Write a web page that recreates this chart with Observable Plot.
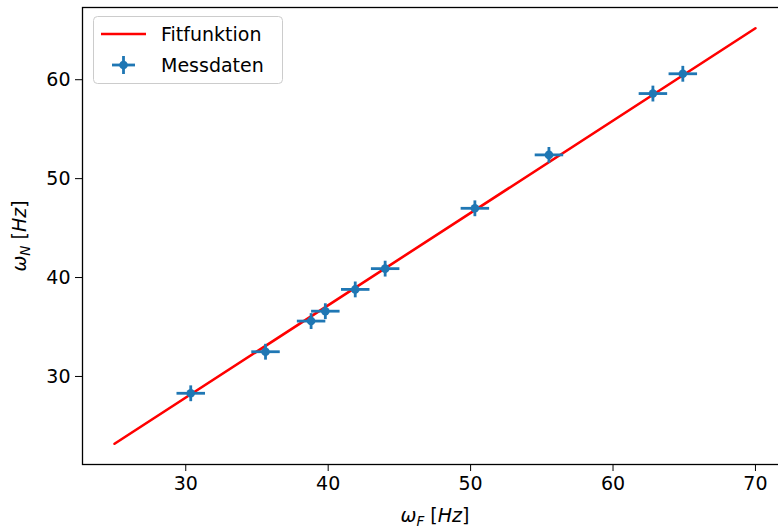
<!DOCTYPE html>
<html>
<head>
<meta charset="utf-8">
<script src="https://cdn.jsdelivr.net/npm/d3@7"></script>
<script src="https://cdn.jsdelivr.net/npm/@observablehq/plot@0.6"></script>
<style>
  html, body { margin: 0; background: #fff; overflow: hidden; }
  #chart { position: relative; width: 778px; height: 529px; overflow: hidden; }
  #chart svg { font-family: "DejaVu Sans", sans-serif; max-width: none !important; width: 788px; height: 529px; }
</style>
</head>
<body>
<div id="chart"></div>
<script>
// Messdaten
const omegaF = [30.35, 35.6, 38.8, 39.8, 41.9, 44.0, 50.3, 55.5, 62.8, 64.9];
const omegaN = [28.3, 32.5, 35.6, 36.6, 38.8, 40.9, 47.0, 52.4, 58.6, 60.6];
const errF = [1.0, 1.0, 1.0, 1.0, 1.0, 1.0, 1.0, 1.0, 1.0, 1.0];
const errN = [0.8, 0.8, 0.8, 0.8, 0.8, 0.8, 0.8, 0.8, 0.8, 0.8];
// Fitfunktion endpoints
const fitX = [25, 70];
const fitY = [23.2, 65.2];
const xTicks = [30, 40, 50, 60, 70];
const yTicks = [30, 40, 50, 60];

const pts = omegaF.map((x, i) => ({x, y: omegaN[i], ex: errF[i], ey: errN[i]}));
const fit = fitX.map((x, i) => ({x, y: fitY[i]}));
const blue = "#1f77b4";
const FS = 19;

// the figure is wider than the visible 778 px; the right spine is cropped as in the reference
const plot = Plot.plot({
  width: 788,
  height: 529,
  marginLeft: 82,
  marginTop: 7,
  marginBottom: 65,
  marginRight: 1,
  style: {fontSize: FS + "px", fontFamily: "DejaVu Sans, sans-serif", color: "black", background: "white", maxWidth: "none"},
  x: {domain: [22.75, 72.25], ticks: xTicks, tickSize: 7, tickPadding: 5, label: null},
  y: {domain: [21.1, 67.3], ticks: yTicks, tickSize: 7, tickPadding: 5, label: null},
  marks: [
    Plot.line(fit, {x: "x", y: "y", stroke: "red", strokeWidth: 2.6}),
    Plot.link(pts, {x1: d => d.x - d.ex, x2: d => d.x + d.ex, y1: "y", y2: "y", stroke: blue, strokeWidth: 2.8}),
    Plot.link(pts, {x1: "x", x2: "x", y1: d => d.y - d.ey, y2: d => d.y + d.ey, stroke: blue, strokeWidth: 2.8}),
    Plot.dot(pts, {x: "x", y: "y", r: 4.3, fill: blue}),
    Plot.frame({stroke: "black", strokeWidth: 1.3})
  ]
});

document.getElementById("chart").appendChild(plot);

const svg = d3.select(plot);
// x label
const xl = svg.append("text").attr("x", 435).attr("y", 522).attr("text-anchor", "middle")
  .attr("font-size", FS).attr("fill", "black");
xl.append("tspan").attr("font-style", "italic").text("ω");
xl.append("tspan").attr("font-style", "italic").attr("font-size", 13.5).attr("dy", 4).text("F");
xl.append("tspan").attr("dy", -4).text(" [");
xl.append("tspan").attr("font-style", "italic").text("Hz");
xl.append("tspan").text("]");
// y label
const yl = svg.append("text").attr("transform", "translate(26,236) rotate(-90)").attr("text-anchor", "middle")
  .attr("font-size", FS).attr("fill", "black");
yl.append("tspan").attr("font-style", "italic").text("ω");
yl.append("tspan").attr("font-style", "italic").attr("font-size", 13.5).attr("dy", 4).text("N");
yl.append("tspan").attr("dy", -4).text(" [");
yl.append("tspan").attr("font-style", "italic").text("Hz");
yl.append("tspan").text("]");

// legend
const lg = svg.append("g").attr("text-anchor", "start");
lg.append("rect").attr("x", 93.5).attr("y", 16.5).attr("width", 189).attr("height", 67).attr("rx", 4)
  .attr("fill", "white").attr("fill-opacity", 0.8).attr("stroke", "#cccccc");
lg.append("line").attr("x1", 101).attr("x2", 146).attr("y1", 34).attr("y2", 34).attr("stroke", "red").attr("stroke-width", 2.6);
lg.append("text").attr("x", 161).attr("y", 41).attr("text-anchor", "start").attr("font-size", FS).attr("fill", "black").text("Fitfunktion");
lg.append("line").attr("x1", 112).attr("x2", 135).attr("y1", 65).attr("y2", 65).attr("stroke", blue).attr("stroke-width", 2.8);
lg.append("line").attr("x1", 123.5).attr("x2", 123.5).attr("y1", 56).attr("y2", 74).attr("stroke", blue).attr("stroke-width", 2.8);
lg.append("circle").attr("cx", 123.5).attr("cy", 65).attr("r", 4.3).attr("fill", blue);
lg.append("text").attr("x", 161).attr("y", 72).attr("text-anchor", "start").attr("font-size", FS).attr("fill", "black").text("Messdaten");
</script>
</body>
</html>
